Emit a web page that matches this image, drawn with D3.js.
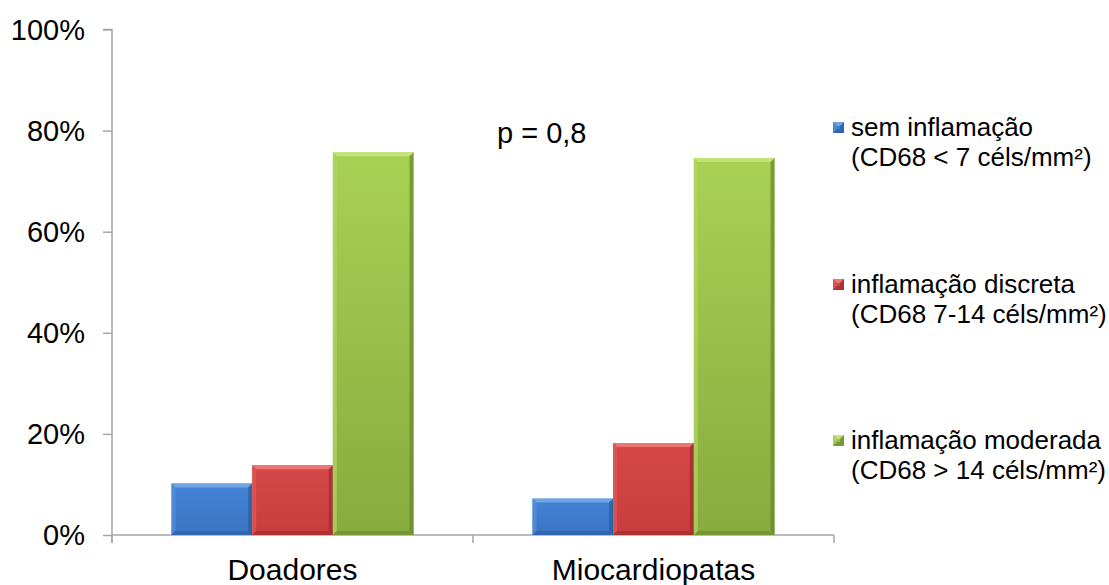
<!DOCTYPE html>
<html>
<head>
<meta charset="utf-8">
<script src="https://cdn.jsdelivr.net/npm/d3@7"></script>
<style>
  html, body { margin: 0; padding: 0; background: #fff; }
  svg { display: block; font-family: "Liberation Sans", Arial, sans-serif; }
</style>
</head>
<body>
<svg id="chart" width="1109" height="585"></svg>
<script>
// Groups on the x axis
const categories = ["Doadores", "Miocardiopatas"];
// Inflammation classes (series) and legend text, two lines each
const seriesKeys = ["sem", "discreta", "moderada"];
const legendLine1 = ["sem inflamação", "inflamação discreta", "inflamação moderada"];
const legendLine2 = ["(CD68 < 7 céls/mm²)", "(CD68 7-14 céls/mm²)", "(CD68 > 14 céls/mm²)"];
// Percent of cases per class, one array per group
const doadores = [10.2, 13.8, 75.7];
const miocardiopatas = [7.2, 18.2, 74.6];
const yTicks = [0, 20, 40, 60, 80, 100];
const pLabel = "p = 0,8";

const values = [doadores, miocardiopatas];

// Bar shading: base gradient, bevel highlight and shadow
const palette = {
  sem:      { top: "#4384d4", bottom: "#3a74c2", light: "#74a8e6", dark: "#2b5da0", side: "#5590dc" },
  discreta: { top: "#d64848", bottom: "#c83d3d", light: "#ec7a78", dark: "#9c2c2c", side: "#dd5a58" },
  moderada: { top: "#a8d254", bottom: "#88ab3e", light: "#c4e47c", dark: "#6a8a2e", side: "#b0d662" }
};

const svg = d3.select("#chart");
const plot = { left: 112, right: 834, top: 29.5, bottom: 535 };

const x0 = d3.scaleBand().domain(categories).range([plot.left, plot.right]).paddingInner(0).paddingOuter(0);
const x1 = d3.scaleBand().domain(seriesKeys).range([0, x0.bandwidth()]).paddingInner(0).paddingOuter(0.737);
const y = d3.scaleLinear().domain([0, 100]).range([plot.bottom, plot.top]);

// Gradients
const defs = svg.append("defs");
seriesKeys.forEach(k => {
  const g = defs.append("linearGradient").attr("id", "grad-" + k)
    .attr("x1", 0).attr("y1", 0).attr("x2", 0).attr("y2", 1);
  g.append("stop").attr("offset", "0%").attr("stop-color", palette[k].top);
  g.append("stop").attr("offset", "100%").attr("stop-color", palette[k].bottom);
});

// Y axis
const yAxis = svg.append("g").attr("transform", `translate(${plot.left},0)`)
  .call(d3.axisLeft(y).tickValues(yTicks).tickSize(9).tickPadding(18).tickFormat(d => d + "%"));
yAxis.select(".domain").attr("stroke", "#a6a6a6").attr("stroke-width", 1.5)
  .attr("d", `M-9,${y(100)}H0V${y(0) + 8}`);
yAxis.selectAll(".tick line").attr("stroke", "#a6a6a6").attr("stroke-width", 1.5);
yAxis.selectAll(".tick text").attr("fill", "#000").attr("font-size", 29)
  .attr("font-family", "Liberation Sans, Arial, sans-serif").attr("dy", "0.34em");

// X axis baseline with ticks at group boundaries
const xAxis = svg.append("g");
xAxis.append("line").attr("x1", plot.left).attr("x2", plot.right)
  .attr("y1", y(0)).attr("y2", y(0)).attr("stroke", "#a6a6a6").attr("stroke-width", 1.5);
const boundaries = categories.map(c => x0(c)).concat([x0(categories[categories.length - 1]) + x0.bandwidth()]);
xAxis.selectAll("line.b").data(boundaries).join("line").attr("class", "b")
  .attr("x1", d => d).attr("x2", d => d).attr("y1", y(0)).attr("y2", y(0) + 8)
  .attr("stroke", "#a6a6a6").attr("stroke-width", 1.5);
xAxis.selectAll("text").data(categories).join("text")
  .attr("x", d => x0(d) + x0.bandwidth() / 2).attr("y", 580)
  .attr("text-anchor", "middle").attr("font-size", 30).attr("fill", "#000")
  .text(d => d);

// Bevelled bars
function bevelBar(g, xa, xb, yt, yb, k) {
  const b = Math.min(4, (yb - yt) / 2);
  const p = palette[k];
  g.append("rect").attr("x", xa).attr("y", yt).attr("width", xb - xa).attr("height", yb - yt)
    .attr("fill", `url(#grad-${k})`);
  g.append("path").attr("fill", p.light).attr("opacity", 0.9)
    .attr("d", `M${xa},${yt}L${xb},${yt}L${xb - b},${yt + b}L${xa + b},${yt + b}Z`);
  g.append("path").attr("fill", p.side).attr("opacity", 0.7)
    .attr("d", `M${xa},${yt}L${xa + b},${yt + b}L${xa + b},${yb - b}L${xa},${yb}Z`);
  g.append("path").attr("fill", p.dark).attr("opacity", 0.75)
    .attr("d", `M${xb},${yt}L${xb},${yb}L${xb - b},${yb - b}L${xb - b},${yt + b}Z`);
  g.append("path").attr("fill", p.dark).attr("opacity", 0.6)
    .attr("d", `M${xa},${yb}L${xb},${yb}L${xb - b},${yb - b}L${xa + b},${yb - b}Z`);
}

const bars = svg.append("g");
categories.forEach((c, ci) => {
  seriesKeys.forEach((k, si) => {
    const xa = x0(c) + x1(k);
    const xb = xa + x1.bandwidth();
    bevelBar(bars, xa, xb, y(values[ci][si]), y(0), k);
  });
});

// Significance annotation
svg.append("text").attr("x", 497).attr("y", 143).attr("font-size", 29).attr("fill", "#000")
  .text(pLabel);

// Legend
const legendTop = [136, 293, 449];
const legend = svg.append("g");
seriesKeys.forEach((k, i) => {
  const ly = legendTop[i];
  const g = legend.append("g");
  bevelBar(g, 833, 844, ly - 14, ly - 3, k);
  g.append("text").attr("x", 851).attr("y", ly).attr("font-size", 26).attr("fill", "#000")
    .text(legendLine1[i]);
  g.append("text").attr("x", 851).attr("y", ly + 30).attr("font-size", 26).attr("fill", "#000")
    .text(legendLine2[i]);
});
</script>
</body>
</html>
